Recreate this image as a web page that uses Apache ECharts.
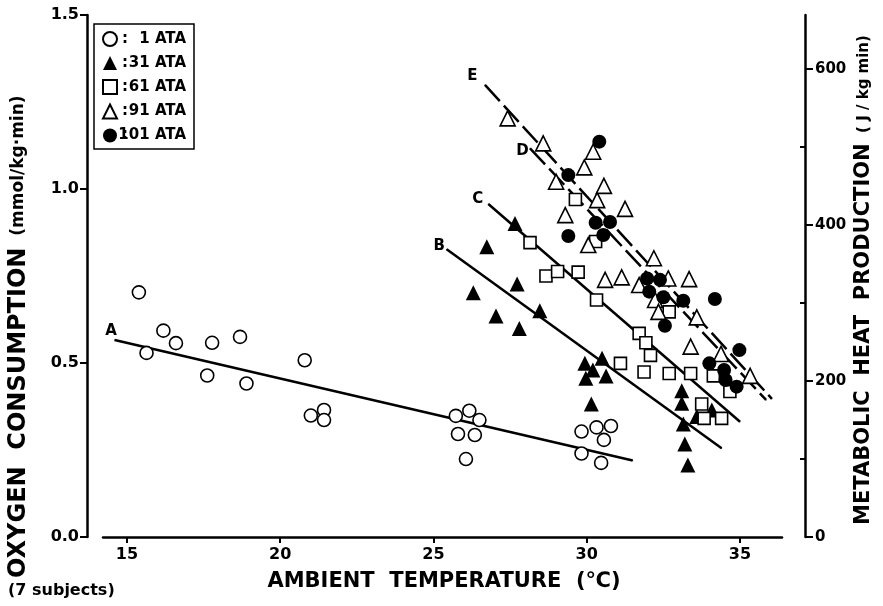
<!DOCTYPE html>
<html>
<head>
<meta charset="utf-8">
<title>Oxygen consumption vs ambient temperature</title>
<script src="https://cdn.jsdelivr.net/npm/echarts@6/dist/echarts.min.js"></script>
<style>
  html, body { margin: 0; padding: 0; background: #fff; }
  #chart { width: 883px; height: 606px; }
</style>
</head>
<body>
<div id="chart"></div>
<script>
// [temperature °C, O2 consumption mmol/kg·min]
var ata1 = [
  [15.39, 0.703], [15.64, 0.529], [16.19, 0.593], [16.6, 0.557], [17.62, 0.464],
  [17.78, 0.558], [18.69, 0.575], [18.9, 0.441], [20.8, 0.508], [21.0, 0.349],
  [21.43, 0.365], [21.43, 0.336], [25.73, 0.348], [25.8, 0.296], [26.06, 0.224],
  [26.17, 0.363], [26.35, 0.293], [26.5, 0.336], [29.83, 0.303], [29.83, 0.24],
  [30.32, 0.315], [30.47, 0.213], [30.56, 0.279], [30.79, 0.319]
];
var ata31 = [
  [26.3, 0.702], [26.74, 0.834], [27.04, 0.635], [27.66, 0.901], [27.73, 0.727],
  [27.8, 0.599], [28.47, 0.65], [29.94, 0.499], [29.97, 0.456], [30.15, 0.382],
  [30.2, 0.48], [30.5, 0.514], [30.63, 0.463], [33.1, 0.42], [33.1, 0.384],
  [33.15, 0.325], [33.2, 0.267], [33.3, 0.207], [33.59, 0.346], [34.08, 0.365]
];
var ata61 = [
  [28.15, 0.846], [28.67, 0.75], [29.05, 0.763], [29.63, 0.97], [29.72, 0.761],
  [30.29, 0.849], [30.32, 0.681], [31.1, 0.499], [31.71, 0.585], [31.87, 0.474],
  [31.93, 0.558], [32.08, 0.522], [32.69, 0.647], [32.69, 0.47], [33.39, 0.47],
  [33.75, 0.382], [33.83, 0.341], [34.13, 0.463], [34.4, 0.341], [34.67, 0.418]
];
var ata91 = [
  [27.42, 1.203], [28.58, 1.131], [29.0, 1.021], [29.3, 0.925], [29.92, 1.062],
  [30.05, 0.839], [30.21, 1.107], [30.34, 0.968], [30.56, 1.009], [30.6, 0.739],
  [31.14, 0.746], [31.25, 0.943], [31.71, 0.724], [32.19, 0.801], [32.23, 0.681],
  [32.34, 0.647], [32.66, 0.743], [33.34, 0.741], [33.39, 0.547], [33.59, 0.631],
  [34.38, 0.526], [35.33, 0.463]
];
var ata101 = [
  [29.4, 1.04], [29.4, 0.865], [30.29, 0.903], [30.41, 1.136], [30.54, 0.868],
  [30.76, 0.905], [31.97, 0.743], [32.04, 0.705], [32.39, 0.739], [32.5, 0.689],
  [32.55, 0.607], [33.15, 0.679], [34.0, 0.499], [34.18, 0.684], [34.48, 0.48],
  [34.53, 0.451], [34.89, 0.432], [34.98, 0.537]
];

// regression lines, start and end point
var lineA = [[14.6, 0.566], [31.5, 0.22]];
var lineB = [[25.43, 0.827], [34.4, 0.255]];
var lineC = [[26.79, 0.957], [35.0, 0.331]];
var lineD = [[28.15, 1.117], [35.85, 0.394]];
var lineE = [[26.68, 1.299], [36.04, 0.397]];

var legendNames = ['1 ATA', '31 ATA', '61 ATA', '91 ATA', '101 ATA'];
var xTicks = [15, 20, 25, 30, 35];
var rightTicks = [0, 200, 400, 600];
var rightMinorTicks = [100, 300, 500];

(function () {
  var FONT = 'DejaVu Sans';
  var chart = echarts.init(document.getElementById('chart'));

  function scatter(name, data, symbol, size, filled) {
    return {
      name: name,
      type: 'scatter',
      data: data,
      symbol: symbol,
      symbolSize: size,
      z: 5,
      itemStyle: filled
        ? { color: '#000', opacity: 1 }
        : { color: '#fff', borderColor: '#000', borderWidth: 1.6, opacity: 1 },
      emphasis: { disabled: true },
    };
  }

  function fitLine(letter, data, dashed, offset) {
    return {
      type: 'line',
      data: [
        {
          value: data[0],
          label: {
            show: true,
            formatter: letter,
            position: offset,
            align: 'center',
            verticalAlign: 'middle',
            color: '#000',
            fontFamily: FONT,
            fontWeight: 'bold',
            fontSize: 15,
          },
        },
        data[1],
      ],
      symbol: 'circle',
      symbolSize: 1,
      itemStyle: { color: '#000' },
      lineStyle: { color: '#000', width: 2.5, type: dashed ? [22, 6] : 'solid' },
      z: 3,
      silent: true,
      emphasis: { disabled: true },
    };
  }

  var option = {
    backgroundColor: '#fff',
    animation: false,
    grid: { left: 103, right: 101, top: 15, bottom: 69 },
    legend: {
      data: legendNames,
      orient: 'vertical',
      left: 94,
      top: 24,
      padding: [7, 8, 6, 8],
      itemWidth: 14,
      itemHeight: 14,
      itemGap: 8.5,
      borderColor: '#000',
      borderWidth: 1.5,
      selectedMode: false,
      formatter: function (name) {
        return '{c|:}{n|' + name + '}';
      },
      textStyle: {
        color: '#000',
        fontFamily: FONT,
        fontWeight: 'bold',
        fontSize: 15,
        rich: {
          c: { width: 6, fontFamily: FONT, fontWeight: 'bold', fontSize: 15 },
          n: { width: 58, align: 'right', fontFamily: FONT, fontWeight: 'bold', fontSize: 15 },
        },
      },
    },
    xAxis: {
      type: 'value',
      min: 14.22,
      max: 36.37,
      axisLine: { lineStyle: { color: '#000', width: 2.5 } },
      axisTick: { customValues: xTicks, length: 6, lineStyle: { color: '#000', width: 2 } },
      axisLabel: {
        customValues: xTicks,
        margin: 10,
        color: '#000',
        fontFamily: FONT,
        fontWeight: 'bold',
        fontSize: 16,
      },
      splitLine: { show: false },
    },
    yAxis: [
      {
        type: 'value',
        min: 0,
        max: 1.5,
        interval: 0.5,
        offset: 16,
        axisLine: { show: true, lineStyle: { color: '#000', width: 2.5 } },
        axisTick: { show: true, length: 7, lineStyle: { color: '#000', width: 2 } },
        axisLabel: {
          margin: 8,
          color: '#000',
          fontFamily: FONT,
          fontWeight: 'bold',
          fontSize: 16,
          formatter: function (v) {
            return v.toFixed(1);
          },
        },
        splitLine: { show: false },
      },
      {
        type: 'value',
        position: 'right',
        min: 0,
        max: 669,
        offset: 23,
        axisLine: { show: true, lineStyle: { color: '#000', width: 2.5 } },
        axisTick: { show: true, customValues: rightTicks, length: 8, lineStyle: { color: '#000', width: 2 } },
        axisLabel: {
          customValues: rightTicks,
          margin: 10,
          color: '#000',
          fontFamily: FONT,
          fontWeight: 'bold',
          fontSize: 15,
        },
        splitLine: { show: false },
      },
      {
        // inner minor ticks of the right axis
        type: 'value',
        position: 'right',
        min: 0,
        max: 669,
        offset: 23,
        axisLine: { show: false },
        axisTick: { show: true, inside: true, customValues: rightMinorTicks, length: 5, lineStyle: { color: '#000', width: 2 } },
        axisLabel: { show: false },
        splitLine: { show: false },
      },
    ],
    graphic: [
      {
        type: 'text',
        x: 19,
        y: 578,
        rotation: Math.PI / 2,
        style: {
          text: '{a|OXYGEN  CONSUMPTION}{b|  (mmol/kg·min)}',
          align: 'left',
          verticalAlign: 'middle',
          fill: '#000',
          rich: {
            a: { fontFamily: FONT, fontWeight: 'bold', fontSize: 24 },
            b: { fontFamily: FONT, fontWeight: 'bold', fontSize: 17 },
          },
        },
      },
      {
        type: 'text',
        x: 864,
        y: 525,
        rotation: Math.PI / 2,
        style: {
          text: '{a|METABOLIC  HEAT  PRODUCTION}{b|  ( J / kg min)}',
          align: 'left',
          verticalAlign: 'middle',
          fill: '#000',
          rich: {
            a: { fontFamily: FONT, fontWeight: 'bold', fontSize: 21 },
            b: { fontFamily: FONT, fontWeight: 'bold', fontSize: 15 },
          },
        },
      },
      {
        type: 'text',
        x: 444,
        y: 582,
        style: {
          text: 'AMBIENT  TEMPERATURE  (℃)',
          align: 'center',
          verticalAlign: 'middle',
          fill: '#000',
          fontFamily: FONT,
          fontWeight: 'bold',
          fontSize: 21,
        },
      },
      {
        type: 'text',
        x: 8,
        y: 591,
        style: {
          text: '(7 subjects)',
          align: 'left',
          verticalAlign: 'middle',
          fill: '#000',
          fontFamily: FONT,
          fontWeight: 'bold',
          fontSize: 16,
        },
      },
    ],
    series: [
      fitLine('A', lineA, false, [-3, -8]),
      fitLine('B', lineB, false, [-7, -3]),
      fitLine('C', lineC, false, [-10, -4]),
      fitLine('D', lineD, true, [-7, 3]),
      fitLine('E', lineE, true, [-12, -8]),
      scatter('1 ATA', ata1, 'circle', 13, false),
      scatter('31 ATA', ata31, 'triangle', 15, true),
      scatter('61 ATA', ata61, 'rect', 12, false),
      scatter('91 ATA', ata91, 'triangle', 15, false),
      scatter('101 ATA', ata101, 'circle', 14, true),
    ],
  };

  chart.setOption(option);
})();
</script>
</body>
</html>
